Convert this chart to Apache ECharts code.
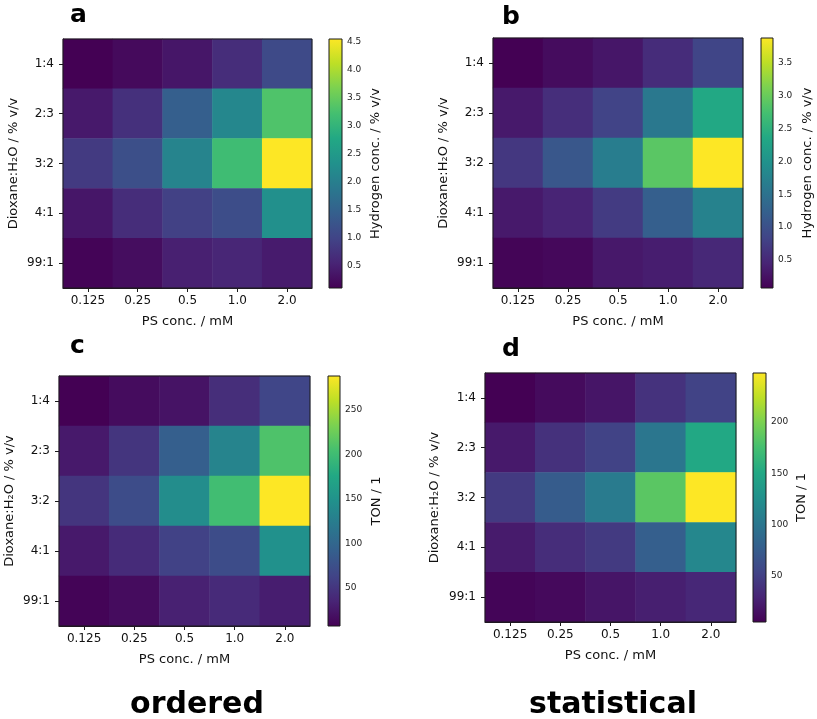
<!DOCTYPE html>
<html>
<head>
<meta charset="utf-8">
<script src="https://cdn.jsdelivr.net/npm/echarts@6/dist/echarts.min.js"></script>
<style>
html,body{margin:0;padding:0;background:#fff;}
#chart{width:817px;height:719px;}
</style>
</head>
<body>
<div id="chart"></div>
<script>
// ---------- data ----------
const xCats = ['0.125', '0.25', '0.5', '1.0', '2.0'];          // PS conc. / mM
const yCats = ['1:4', '2:3', '3:2', '4:1', '99:1'];             // Dioxane:H2O, top to bottom

// Hydrogen conc. / % v/v — ordered (panel a), rows follow yCats
const h2Ordered = [
  [0.11, 0.22, 0.38, 0.68, 1.10],
  [0.42, 0.72, 1.44, 2.15, 3.30],
  [0.86, 1.17, 2.10, 3.15, 4.54],
  [0.38, 0.68, 0.95, 1.15, 2.30],
  [0.15, 0.26, 0.50, 0.58, 0.44]
];
// Hydrogen conc. / % v/v — statistical (panel b)
const h2Statistical = [
  [0.07, 0.19, 0.30, 0.55, 0.85],
  [0.33, 0.57, 0.83, 1.60, 2.36],
  [0.68, 1.10, 1.67, 2.89, 3.88],
  [0.33, 0.45, 0.72, 1.21, 1.75],
  [0.11, 0.15, 0.32, 0.38, 0.50]
];
// TON / 1 — ordered (panel c)
const tonOrdered = [
  [7.4, 16, 22, 44, 66],
  [27, 50, 92, 133, 209],
  [50, 72, 143, 201, 288],
  [27, 42, 62, 72, 148],
  [10, 16, 33, 41, 30]
];
// TON / 1 — statistical (panel d)
const tonStatistical = [
  [5.3, 12, 19, 40, 53],
  [22, 39, 53, 100, 151],
  [46, 75, 105, 185, 247.6],
  [23, 36, 46, 78, 117],
  [8, 11, 19, 26, 32]
];

// colour-bar ranges and tick labels
const h2OrderedRange = [0.11, 4.54];
const h2StatisticalRange = [0.07, 3.88];
const tonOrderedRange = [7.4, 288];
const tonStatisticalRange = [5.3, 247.6];
const h2OrderedTicks = [0.5, 1.0, 1.5, 2.0, 2.5, 3.0, 3.5, 4.0, 4.5];
const h2StatisticalTicks = [0.5, 1.0, 1.5, 2.0, 2.5, 3.0, 3.5];
const tonOrderedTicks = [50, 100, 150, 200, 250];
const tonStatisticalTicks = [50, 100, 150, 200];

const panelLetters = ['a', 'b', 'c', 'd'];
const xName = 'PS conc. / mM';
const yName = 'Dioxane:H\u2082O / % v/v';
const h2Name = 'Hydrogen conc. / % v/v';
const tonName = 'TON / 1';

// ---------- styling ----------
const FONT = 'DejaVu Sans';
const viridis = ['#440154', '#482475', '#414487', '#355f8d', '#2a788e', '#21918c',
                 '#22a884', '#44bf70', '#7ad151', '#bddf26', '#fde725'];

const panels = [
  { values: h2Ordered, range: h2OrderedRange, ticks: h2OrderedTicks, cbName: h2Name, dec: 1,
    grid: {left: 63, top: 39, width: 249, height: 249}, cb: {left: 329, top: 39, width: 13, height: 249},
    yGap: 43, cbGap: 27, letter: [70, 15] },
  { values: h2Statistical, range: h2StatisticalRange, ticks: h2StatisticalTicks, cbName: h2Name, dec: 1,
    grid: {left: 493, top: 38, width: 250, height: 250}, cb: {left: 761, top: 38, width: 12, height: 250},
    yGap: 43, cbGap: 28, letter: [502, 17] },
  { values: tonOrdered, range: tonOrderedRange, ticks: tonOrderedTicks, cbName: tonName, dec: 0,
    grid: {left: 59, top: 376, width: 251, height: 250}, cb: {left: 328, top: 376, width: 12, height: 250},
    yGap: 43, cbGap: 30, letter: [70, 346] },
  { values: tonStatistical, range: tonStatisticalRange, ticks: tonStatisticalTicks, cbName: tonName, dec: 0,
    grid: {left: 485, top: 373, width: 251, height: 249}, cb: {left: 753, top: 373, width: 13, height: 249},
    yGap: 44, cbGap: 29, letter: [502, 349] }
];

const grid = [], xAxis = [], yAxis = [], series = [], visualMap = [], graphic = [];
const gradient = {
  type: 'linear', x: 0, y: 1, x2: 0, y2: 0,
  colorStops: viridis.map((c, i) => ({offset: i / (viridis.length - 1), color: c}))
};

panels.forEach((p, i) => {
  grid.push(Object.assign({show: true, borderColor: '#1a1a1a', borderWidth: 1, backgroundColor: 'transparent', z: 5}, p.grid));
  xAxis.push({
    type: 'category', gridIndex: i, data: xCats,
    name: xName, nameLocation: 'middle', nameGap: 27,
    nameTextStyle: {fontFamily: FONT, fontSize: 13, color: '#111'},
    axisLine: {show: true, lineStyle: {color: '#1a1a1a', width: 1}},
    axisTick: {show: true, alignWithLabel: true, length: 4, lineStyle: {color: '#1a1a1a'}},
    axisLabel: {fontFamily: FONT, fontSize: 12, color: '#111', margin: 7},
    splitLine: {show: false}
  });
  yAxis.push({
    type: 'category', gridIndex: i, data: yCats, inverse: true,
    name: yName, nameLocation: 'middle', nameGap: p.yGap, nameRotate: 90,
    nameTextStyle: {fontFamily: FONT, fontSize: 13, color: '#111'},
    axisLine: {show: true, lineStyle: {color: '#1a1a1a', width: 1}},
    axisTick: {show: true, alignWithLabel: true, length: 4, lineStyle: {color: '#1a1a1a'}},
    axisLabel: {fontFamily: FONT, fontSize: 12, color: '#111', margin: 9},
    splitLine: {show: false}
  });
  const data = [];
  p.values.forEach((row, r) => row.forEach((v, c) => data.push([c, r, v])));
  series.push({
    type: 'heatmap', xAxisIndex: i, yAxisIndex: i, data: data,
    itemStyle: {borderWidth: 0}, emphasis: {disabled: true}, silent: true
  });
  visualMap.push({
    type: 'continuous', show: false, seriesIndex: i,
    min: p.range[0], max: p.range[1], inRange: {color: viridis}
  });
});

panels.forEach((p, i) => {
  const gi = 4 + i;
  grid.push(Object.assign({show: false}, p.cb));
  xAxis.push({type: 'value', gridIndex: gi, min: 0, max: 1, show: false});
  yAxis.push({
    type: 'value', gridIndex: gi, position: 'right',
    min: p.range[0], max: p.range[1],
    name: p.cbName, nameLocation: 'middle', nameGap: p.cbGap, nameRotate: 90,
    nameTextStyle: {fontFamily: FONT, fontSize: 13, color: '#111'},
    axisLine: {show: false},
    axisTick: {show: true, length: 3, customValues: p.ticks, lineStyle: {color: '#1a1a1a'}},
    axisLabel: {fontFamily: FONT, fontSize: 9, color: '#222', margin: 5, customValues: p.ticks,
                formatter: v => Number(v).toFixed(p.dec)},
    splitLine: {show: false}
  });
  series.push({
    type: 'custom', xAxisIndex: gi, yAxisIndex: gi, silent: true,
    data: [[0, p.range[0], 1, p.range[1]]],
    encode: {x: [0, 2], y: [1, 3]},
    renderItem: (params, api) => {
      const a = api.coord([api.value(0), api.value(1)]);
      const b = api.coord([api.value(2), api.value(3)]);
      return {
        type: 'rect',
        shape: {x: a[0], y: b[1], width: b[0] - a[0], height: a[1] - b[1]},
        style: {fill: gradient, stroke: '#1a1a1a', lineWidth: 1}
      };
    }
  });
  graphic.push({
    type: 'text', x: p.letter[0], y: p.letter[1], silent: true,
    style: {text: panelLetters[i], font: 'bold 25px "DejaVu Sans"', fill: '#000',
            textAlign: 'left', textVerticalAlign: 'middle'}
  });
});

graphic.push({
  type: 'text', x: 197, y: 705, silent: true,
  style: {text: 'ordered', font: 'bold 30px "DejaVu Sans"', fill: '#000', textAlign: 'center', textVerticalAlign: 'middle'}
});
graphic.push({
  type: 'text', x: 613, y: 705, silent: true,
  style: {text: 'statistical', font: 'bold 30px "DejaVu Sans"', fill: '#000', textAlign: 'center', textVerticalAlign: 'middle'}
});

const chart = echarts.init(document.getElementById('chart'), null, {renderer: 'canvas'});
chart.setOption({
  backgroundColor: '#fff',
  animation: false,
  textStyle: {fontFamily: FONT},
  grid, xAxis, yAxis, visualMap, series, graphic
});
</script>
</body>
</html>
